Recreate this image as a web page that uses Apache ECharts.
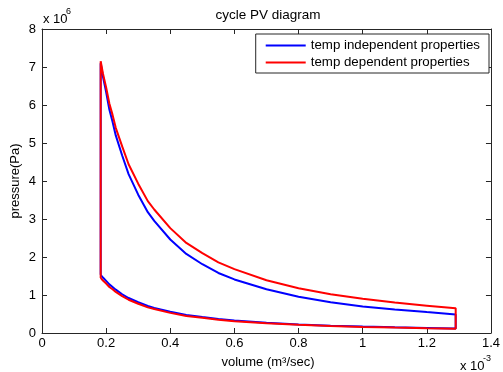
<!DOCTYPE html>
<html>
<head>
<meta charset="utf-8">
<title>cycle PV diagram</title>
<script src="https://cdn.jsdelivr.net/npm/echarts@6/dist/echarts.min.js"></script>
<style>
  html, body { margin: 0; padding: 0; background: #fff; }
  #main { width: 503px; height: 372px; }
</style>
</head>
<body>
<div id="main"></div>
<script>
// volume in units of 1e-3 m^3, pressure in units of 1e6 Pa
const volume = [0.183, 0.19, 0.2, 0.21, 0.22, 0.23, 0.25, 0.27, 0.3, 0.33, 0.35, 0.4, 0.45, 0.5, 0.55, 0.6, 0.7, 0.8, 0.9, 1.0, 1.1, 1.2, 1.29];
const blueExpansion = [7.10, 6.75, 6.34, 5.88, 5.56, 5.20, 4.67, 4.18, 3.64, 3.18, 2.95, 2.46, 2.08, 1.81, 1.58, 1.41, 1.15, 0.955, 0.81, 0.70, 0.62, 0.55, 0.49];
const blueCompression = [1.53, 1.46, 1.37, 1.28, 1.21, 1.14, 1.02, 0.92, 0.81, 0.71, 0.66, 0.56, 0.475, 0.42, 0.366, 0.33, 0.27, 0.226, 0.194, 0.169, 0.150, 0.134, 0.12];
const redExpansion = [7.15, 6.83, 6.46, 6.04, 5.74, 5.40, 4.91, 4.44, 3.93, 3.47, 3.25, 2.76, 2.37, 2.10, 1.86, 1.68, 1.39, 1.18, 1.02, 0.90, 0.80, 0.72, 0.65];
const redCompression = [1.45, 1.38, 1.30, 1.21, 1.15, 1.08, 0.97, 0.875, 0.77, 0.674, 0.63, 0.53, 0.45, 0.40, 0.347, 0.31, 0.255, 0.215, 0.184, 0.16, 0.142, 0.127, 0.114];
const seriesNames = ["temp independent properties", "temp dependent properties"];
const xTicks = [0, 0.2, 0.4, 0.6, 0.8, 1, 1.2, 1.4];
const yTicks = [0, 1, 2, 3, 4, 5, 6, 7, 8];

// closed loop: up the left side, along expansion, down the right side, back along compression
function buildLoop(expansion, compression) {
    var pts = [];
    pts.push([volume[0], compression[0]]);
    for (var i = 0; i < volume.length; i++) pts.push([volume[i], expansion[i]]);
    for (var j = volume.length - 1; j >= 0; j--) pts.push([volume[j], compression[j]]);
    return pts;
}

var chartDom = document.getElementById('main');
var myChart = echarts.init(chartDom);
var font = "Liberation Sans, Arial, sans-serif";
var axisColor = "#262626";

function xAxisCfg(pos, showLabel) {
    return {
        type: 'value', position: pos, min: xTicks[0], max: xTicks[xTicks.length - 1], interval: 0.2,
        axisLine: { show: true, onZero: false, lineStyle: { color: axisColor, width: 1 } },
        axisTick: { show: true, inside: true, length: 5, lineStyle: { color: axisColor } },
        axisLabel: { show: showLabel, color: '#000', fontFamily: font, fontSize: 13, margin: 4 },
        splitLine: { show: false }
    };
}
function yAxisCfg(pos, showLabel) {
    return {
        type: 'value', position: pos, min: yTicks[0], max: yTicks[yTicks.length - 1], interval: 1,
        axisLine: { show: true, onZero: false, lineStyle: { color: axisColor, width: 1 } },
        axisTick: { show: true, inside: true, length: 5, lineStyle: { color: axisColor } },
        axisLabel: { show: showLabel, color: '#000', fontFamily: font, fontSize: 13, margin: 6 },
        splitLine: { show: false }
    };
}

var option = {
    animation: false,
    backgroundColor: '#fff',
    grid: { left: 42, right: 8, top: 29, bottom: 39 },
    xAxis: [xAxisCfg('bottom', true), xAxisCfg('top', false)],
    yAxis: [yAxisCfg('left', true), yAxisCfg('right', false)],
    legend: {
        orient: 'vertical', right: 14, top: 34,
        padding: [5, 9, 4, 10], itemGap: 4,
        borderColor: axisColor, borderWidth: 1, backgroundColor: '#fff',
        icon: 'rect', itemWidth: 40, itemHeight: 2,
        textStyle: { fontFamily: font, fontSize: 13.3, color: '#000' },
        data: seriesNames
    },
    series: [
        {
            name: seriesNames[0], type: 'line', color: '#0000ff', showSymbol: false,
            lineStyle: { width: 2, color: '#0000ff' },
            data: buildLoop(blueExpansion, blueCompression)
        },
        {
            name: seriesNames[1], type: 'line', color: '#ff0000', showSymbol: false,
            lineStyle: { width: 2, color: '#ff0000' },
            data: buildLoop(redExpansion, redCompression)
        }
    ],
    graphic: [
        { type: 'text', x: 268, y: 15, style: { text: 'cycle PV diagram', font: '13.5px ' + font, fill: '#000', align: 'center', verticalAlign: 'middle' } },
        { type: 'text', x: 268, y: 362, style: { text: 'volume (m\u00b3/sec)', font: '13px ' + font, fill: '#000', align: 'center', verticalAlign: 'middle' } },
        { type: 'text', x: 15, y: 181, rotation: Math.PI / 2, style: { text: 'pressure(Pa)', font: '13px ' + font, fill: '#000', align: 'center', verticalAlign: 'middle' } },
        { type: 'text', x: 43, y: 19, style: { text: 'x 10', font: '13px ' + font, fill: '#000', align: 'left', verticalAlign: 'middle' } },
        { type: 'text', x: 66, y: 12, style: { text: '6', font: '9px ' + font, fill: '#000', align: 'left', verticalAlign: 'middle' } },
        { type: 'text', x: 460, y: 366, style: { text: 'x 10', font: '13px ' + font, fill: '#000', align: 'left', verticalAlign: 'middle' } },
        { type: 'text', x: 483, y: 359, style: { text: '-3', font: '9px ' + font, fill: '#000', align: 'left', verticalAlign: 'middle' } }
    ]
};

option && myChart.setOption(option);
</script>
</body>
</html>
